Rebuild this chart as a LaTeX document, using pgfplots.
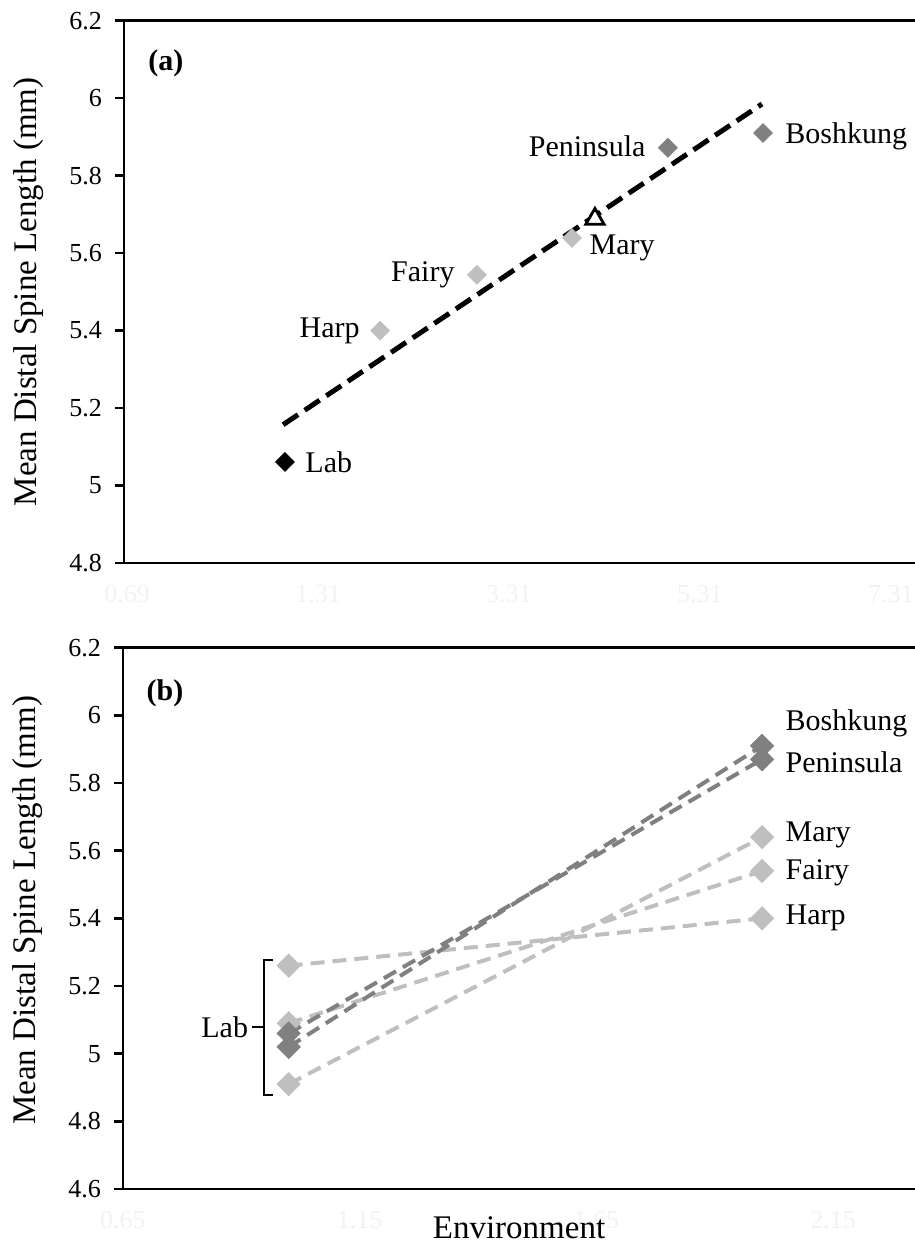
\documentclass[border=0pt]{standalone}
\usepackage{fontspec}
\setmainfont{Liberation Serif}
\usepackage{pgfplots}
\pgfplotsset{compat=1.18}
\definecolor{dg}{HTML}{808080}
\definecolor{lg}{HTML}{BFBFBF}
\definecolor{faint}{HTML}{F2F2F2}
\tikzset{lbl/.style={font=\fontsize{15}{15}\selectfont, inner sep=0pt}}
\begin{document}
\begin{tikzpicture}
\path[use as bounding box] (0,0) rectangle (457.5pt,624.5pt);
\pgfplotsset{
 panel/.style={
  scale only axis,
  anchor=south west,
  axis x line=box,
  axis y line=left,
  y axis line style={-},
  axis line style={line width=1.3pt},
  tick align=outside,
  major tick length=4.5pt,
  ytick style={line width=1.3pt, black},
  xtick style={draw=none},
  yticklabel style={font=\fontsize{13}{13}\selectfont, xshift=-3pt},
  xticklabel style={font=\fontsize{13}{13}\selectfont, text=faint, yshift=-3pt},
  /pgf/number format/assume math mode=true,
  ylabel={Mean Distal Spine Length (mm)},
  dmd/.style={only marks, mark=square*, mark size=3.3pt, mark options={rotate=45}},
 }
}
% ---------- panel (a)
\begin{axis}[panel, at={(62pt,343pt)}, width=395.5pt, height=271.15pt,
  xmin=-0.016, xmax=4.126, ymin=4.8, ymax=6.2,
  every axis y label/.style={at={(axis description cs:-0.121,0.5)}, rotate=90, anchor=center, font=\fontsize{16.5}{16.5}\selectfont},
  ytick={4.8,5,5.2,5.4,5.6,5.8,6,6.2}, yticklabels={4.8,5,5.2,5.4,5.6,5.8,6,6.2},
  xtick={0,1,2,3,4}, xticklabels={0.69,1.31,3.31,5.31,7.31}]
\addplot[dmd, color=lg] coordinates {(1.325,5.40) (1.832,5.544) (2.33,5.639)};
\addplot[dmd, color=dg] coordinates {(2.832,5.872) (3.33,5.91)};
\addplot[dmd, color=black] coordinates {(0.827,5.061)};
\addplot[black, line width=2.5pt, dash pattern=on 9pt off 4pt] coordinates {(0.817,5.157) (3.325,5.985)};
\addplot[only marks, mark=triangle*, mark size=5.3pt, mark options={fill=white, draw=black, line width=1.4pt}] coordinates {(2.45,5.688)};
\node[lbl, anchor=west] at (axis cs:0.932,5.06) {Lab};
\node[lbl, anchor=east] at (axis cs:1.22,5.40) {Harp};
\node[lbl, anchor=east] at (axis cs:1.717,5.544) {Fairy};
\node[lbl, anchor=west] at (axis cs:2.42,5.613) {Mary};
\node[lbl, anchor=east] at (axis cs:2.717,5.877) {Peninsula};
\node[lbl, anchor=west] at (axis cs:3.445,5.902) {Boshkung};
\node[font=\bfseries\fontsize{15}{15}\selectfont] at (axis description cs:0.053,0.922) {(a)};
\end{axis}
% ---------- panel (b)
\begin{axis}[panel, at={(61.5pt,30pt)}, width=396pt, height=270.65pt,
  xmin=0.65, xmax=2.323, ymin=4.6, ymax=6.2,
  every axis y label/.style={at={(axis description cs:-0.121,0.515)}, rotate=90, anchor=center, font=\fontsize{16.5}{16.5}\selectfont},
  ytick={4.6,4.8,5,5.2,5.4,5.6,5.8,6,6.2}, yticklabels={4.6,4.8,5,5.2,5.4,5.6,5.8,6,6.2},
  xtick={0.65,1.15,1.65,2.15}, xticklabels={0.65,1.15,1.65,2.15},
  xlabel={Environment},
  every axis x label/.style={at={(axis description cs:0.5,-0.072)}, anchor=center, font=\fontsize{16.5}{16.5}\selectfont},
  ln/.style={line width=2pt, dash pattern=on 7pt off 4pt, mark=square*, mark size=3.3pt, mark options={solid, rotate=45}}]
\addplot[ln, color=lg] coordinates {(1,5.26) (2,5.40)};
\addplot[ln, color=lg] coordinates {(1,5.09) (2,5.54)};
\addplot[ln, color=lg] coordinates {(1,4.91) (2,5.64)};
\addplot[ln, color=dg] coordinates {(1,5.06) (2,5.87)};
\addplot[ln, color=dg] coordinates {(1,5.02) (2,5.91)};
\node[lbl, anchor=west] at (axis cs:2.049,5.975) {Boshkung};
\node[lbl, anchor=west] at (axis cs:2.049,5.86) {Peninsula};
\node[lbl, anchor=west] at (axis cs:2.049,5.647) {Mary};
\node[lbl, anchor=west] at (axis cs:2.049,5.535) {Fairy};
\node[lbl, anchor=west] at (axis cs:2.049,5.40) {Harp};
\draw[line width=1.2pt] (axis cs:0.966,5.277) -- (axis cs:0.9475,5.277) -- (axis cs:0.9475,4.878) -- (axis cs:0.966,4.878);
\draw[line width=1.2pt] (axis cs:0.9475,5.079) -- (axis cs:0.922,5.079);
\node[lbl, anchor=east] at (axis cs:0.915,5.079) {Lab};
\node[font=\bfseries\fontsize{15}{15}\selectfont] at (axis description cs:0.053,0.916) {(b)};
\end{axis}
\end{tikzpicture}
\end{document}
